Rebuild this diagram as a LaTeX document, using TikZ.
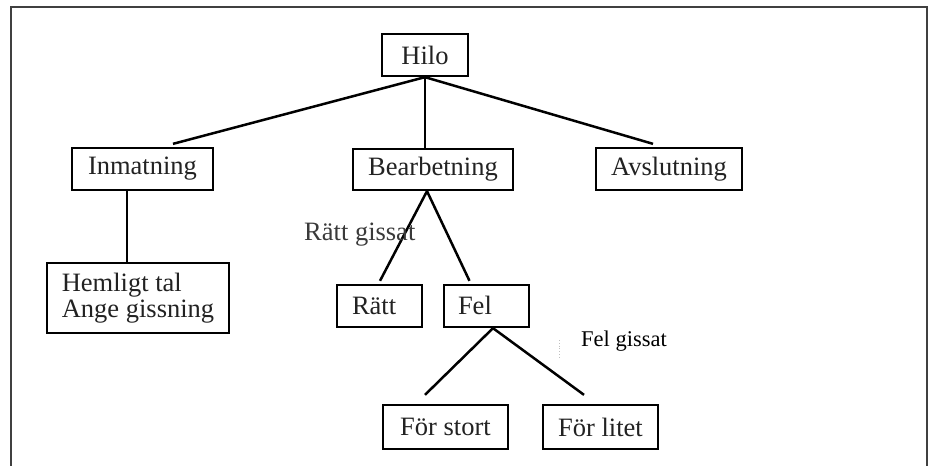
\documentclass[tikz,border=0pt]{standalone}
\usepackage{fontspec}
\setmainfont{Liberation Serif}
\definecolor{txt}{HTML}{222222}
\definecolor{lbl}{HTML}{3A3A3A}
\definecolor{frame}{HTML}{404040}
\tikzset{
  box/.style={draw=black, line width=2.3pt, inner sep=0pt, text=txt,
    font=\fontsize{26.5}{29}\selectfont, align=center},
  lbox/.style={box, align=left},
  onebox/.style={lbox, text height=17pt, text depth=1pt},
  conn/.style={line width=2.5pt, black},
  thinconn/.style={line width=1.9pt, black},
  note/.style={inner sep=0pt, anchor=base west}
}
\begin{document}
\begin{tikzpicture}[x=1pt,y=-1pt]
\useasboundingbox (0,0) rectangle (930,466);
% outer frame (no bottom edge)
\draw[frame, line width=2.4pt] (11,466) -- (11,7) -- (927,7) -- (927,466);

% boxes
\node[box, minimum width=86pt, minimum height=42pt] (hilo) at (425,55) {Hilo};
\node[box, minimum width=141pt, minimum height=42pt] (inm) at (142.5,169) {Inmatning};
\node[box, minimum width=160pt, minimum height=41pt] (bear) at (433,169.5) {Bearbetning};
\node[box, minimum width=146pt, minimum height=42pt] (avs) at (669,169) {Avslutning};
\node[lbox, minimum width=182pt, minimum height=70pt] (hem) at (138,298) {Hemligt tal\\[-3pt]Ange gissning};
\node[onebox, text width=55pt, inner xsep=15pt, minimum height=42pt] (ratt) at (379.5,306) {Rätt};
\node[onebox, text width=57pt, inner xsep=14pt, minimum height=42pt] (fel) at (486.5,306) {Fel};
\node[box, minimum width=125pt, minimum height=44pt] (stort) at (445.5,427) {För stort};
\node[box, minimum width=115pt, minimum height=44pt] (litet) at (600.5,427) {För litet};

% connector end points
\coordinate (eInm) at ([shift={(30.5,-3)}]inm.north);
\coordinate (eAvs) at ([shift={(-16,-3)}]avs.north);
\coordinate (sInm) at ([xshift=-15.5pt]inm.south);
\coordinate (sBear) at ([xshift=-6pt]bear.south);
\coordinate (eRatt) at ([shift={(0.5,-3)}]ratt.north);
\coordinate (eFel) at ([shift={(-17,-3)}]fel.north);
\coordinate (sFel) at ([xshift=6.5pt]fel.south);
\coordinate (eStort) at ([shift={(-20.5,-9)}]stort.north);
\coordinate (eLitet) at ([shift={(-16.5,-9)}]litet.north);

% connectors
\draw[conn] (hilo.south) -- (eInm);
\draw[thinconn] (hilo.south) -- (hilo.south |- bear.north);
\draw[conn] (hilo.south) -- (eAvs);
\draw[conn] (sInm) -- (sInm |- hem.north);
\draw[conn] (sBear) -- (eRatt);
\draw[conn] (sBear) -- (eFel);
\draw[conn] (sFel) -- (eStort);
\draw[conn] (sFel) -- (eLitet);

% labels
\node[note, text=lbl, font=\fontsize{26.5}{29}\selectfont] (lblRatt) at (304,240.7) {Rätt gissat};
\node[note, text=black, font=\fontsize{22.5}{26}\selectfont] (lblFel) at (581,346.7) {Fel gissat};
\draw[black!25, line width=0.8pt, dotted] (559,340) -- (559,359);
\end{tikzpicture}
\end{document}
